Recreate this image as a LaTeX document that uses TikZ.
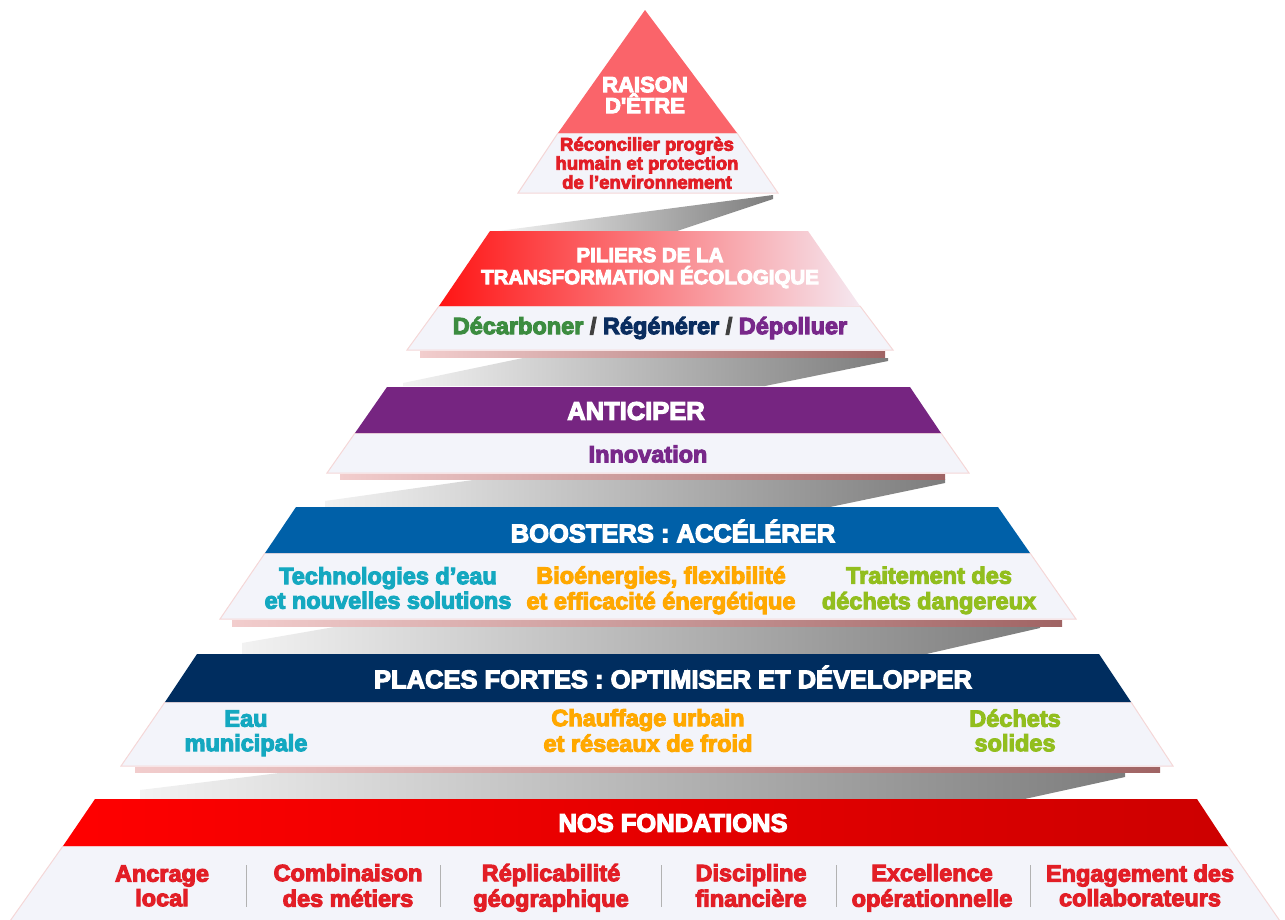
\documentclass[tikz,border=0pt]{standalone}
\usepackage{fontspec}
\setmainfont{Liberation Sans}[BoldFeatures={FakeBold=4.5}]
\definecolor{lightband}{RGB}{243,244,250}
\definecolor{tonered}{RGB}{250,100,106}
\definecolor{txtred}{RGB}{226,30,38}
\definecolor{purp}{RGB}{118,37,129}
\definecolor{boostblue}{RGB}{0,96,168}
\definecolor{navyband}{RGB}{0,45,95}
\definecolor{cyanT}{RGB}{20,168,192}
\definecolor{orangeT}{RGB}{255,168,0}
\definecolor{greenT}{RGB}{146,190,30}
\definecolor{greenD}{RGB}{60,140,64}
\definecolor{navyD}{RGB}{10,45,95}
\definecolor{purpD}{RGB}{120,40,138}
\definecolor{slashgray}{RGB}{64,64,64}
\definecolor{darkredR}{RGB}{205,0,0}
\definecolor{brightR}{RGB}{255,0,0}
\definecolor{pilL}{RGB}{255,20,20}
\definecolor{pilR}{RGB}{245,232,240}
\definecolor{shadeL}{RGB}{242,242,242}
\definecolor{shadeR}{RGB}{125,125,125}
\definecolor{stripL}{RGB}{242,205,205}
\definecolor{stripR}{RGB}{160,100,100}
\definecolor{glow}{RGB}{245,215,215}
\begin{document}
\begin{tikzpicture}[x=1pt,y=-1pt,
  shadowgray/.style={left color=shadeL, right color=shadeR},
  stripband/.style={left color=stripL, right color=stripR},
  lightpart/.style={fill=lightband, draw=glow, line width=1pt},
  hdr/.style={text=white, inner sep=0pt, align=center, font=\bfseries\fontsize{25.5}{26}\selectfont},
  bodytxt/.style={inner sep=0pt, align=center, font=\bfseries\fontsize{23.5}{24.5}\selectfont},
  sepline/.style={draw=gray!60, line width=0.8pt}]
\useasboundingbox (0,0) rectangle (1285,919);

% ---- gray risers (drawn first) ----
\path[shadowgray] (498,231) -- (773,195) -- (773,199) -- (677,231) -- cycle;
\path[shadowgray] (403,386) -- (403,383) -- (523,358) -- (888,358) -- (888,361) -- (765,386) -- cycle;
\path[shadowgray] (325,507) -- (325,501) -- (480,479) -- (945,479) -- (945,483) -- (830,507) -- cycle;
\path[shadowgray] (242,655) -- (242,643) -- (340,626) -- (1040,622) -- (1040,628) -- (922,655) -- cycle;
\path[shadowgray] (140,800) -- (140,790) -- (320,768) -- (1125,767) -- (1125,777) -- (1020,800) -- cycle;

% ---- bottom edge strips ----
\path[stripband] (420,351) rectangle (885,357);
\path[stripband] (340,474) rectangle (945,479);
\path[stripband] (232,620) rectangle (1062,626);
\path[stripband] (135,767) rectangle (1160,772);

% ---- tier 1 ----
\path[lightpart] (558,133) -- (737,133) -- (778,193) -- (518,193) -- cycle;
\fill[tonered] (645,10) -- (737,133) -- (558,133) -- cycle;

% ---- tier 2 ----
\path[lightpart] (439,306) -- (860,306) -- (893,350) -- (407,350) -- cycle;
\path[left color=pilL, right color=pilR] (490,231) -- (808,231) -- (860,306) -- (439,306) -- cycle;

% ---- tier 3 ----
\path[lightpart] (355,433) -- (941,433) -- (969,473) -- (327,473) -- cycle;
\fill[purp] (387,387) -- (910,387) -- (941,433) -- (355,433) -- cycle;

% ---- tier 4 ----
\path[lightpart] (265,553) -- (1030,553) -- (1076,619) -- (220,619) -- cycle;
\fill[boostblue] (296,507) -- (998,507) -- (1030,553) -- (265,553) -- cycle;

% ---- tier 5 ----
\path[lightpart] (165,702) -- (1131,702) -- (1173,766) -- (121,766) -- cycle;
\fill[navyband] (197,654) -- (1099,654) -- (1131,702) -- (165,702) -- cycle;

% ---- tier 6 ----
\path[lightpart] (63,846) -- (1228,846) -- (1280,921) -- (10,921) -- cycle;
\path[left color=brightR, middle color=brightR, right color=darkredR] (95,799) -- (1197,799) -- (1228,846) -- (63,846) -- cycle;

% ---- texts ----
\node[hdr, font=\bfseries\fontsize{22}{21}\selectfont] (raison) at (645,95) {RAISON\\D{\addfontfeature{Ligatures=TeXOff}'}ÊTRE};
\node[bodytxt, text=txtred, font=\bfseries\fontsize{18.5}{19}\selectfont] (reconc) at (647,163) {Réconcilier progrès\\humain et protection\\de l’environnement};

\node[hdr, font=\bfseries\fontsize{20.5}{22}\selectfont] (piliers) at (650,268) {PILIERS DE LA\\TRANSFORMATION ÉCOLOGIQUE};
\node[bodytxt, text=slashgray, font=\bfseries\fontsize{23.5}{24}\selectfont] (decarb) at (650,328) {\textcolor{greenD}{Décarboner} / \textcolor{navyD}{Régénérer} / \textcolor{purpD}{Dépolluer}};

\node[hdr] (antic) at (636,411) {ANTICIPER};
\node[bodytxt, text=purpD] (innov) at (648,454) {Innovation};

\node[hdr] (boost) at (673,531) {BOOSTERS : ACCÉLÉRER};
\node[bodytxt, text=cyanT] (techno) at (388,591.5) {Technologies d’eau\strut\\et nouvelles solutions\strut};
\node[bodytxt, text=orangeT] (bioen) at (661,591.5) {Bioénergies, flexibilité\strut\\et efficacité énergétique\strut};
\node[bodytxt, text=greenT] (traitm) at (929,591.5) {Traitement des\strut\\déchets dangereux\strut};

\node[hdr] (places) at (673,677) {PLACES FORTES : OPTIMISER ET DÉVELOPPER};
\node[bodytxt, text=cyanT] (eaumun) at (246,734) {Eau\strut\\municipale\strut};
\node[bodytxt, text=orangeT] (chauff) at (648,734) {Chauffage urbain\strut\\et réseaux de froid\strut};
\node[bodytxt, text=greenT] (dechsol) at (1015,734) {Déchets\strut\\solides\strut};

\node[hdr] (fondations) at (673,823) {NOS FONDATIONS};
\node[bodytxt, text=txtred] (ancrage) at (162,889) {Ancrage\strut\\local\strut};
\node[bodytxt, text=txtred] (combin) at (348,889) {Combinaison\strut\\des métiers\strut};
\node[bodytxt, text=txtred] (replic) at (551,889) {Réplicabilité\strut\\géographique\strut};
\node[bodytxt, text=txtred] (discip) at (751,889) {Discipline\strut\\financière\strut};
\node[bodytxt, text=txtred] (excell) at (932,889) {Excellence\strut\\opérationnelle\strut};
\node[bodytxt, text=txtred] (engag) at (1140,889) {Engagement des\strut\\collaborateurs\strut};

\draw[sepline] (246,865) -- (246,907);
\draw[sepline] (440,865) -- (440,907);
\draw[sepline] (661,865) -- (661,907);
\draw[sepline] (836,865) -- (836,907);
\draw[sepline] (1030,865) -- (1030,907);
\end{tikzpicture}
\end{document}
